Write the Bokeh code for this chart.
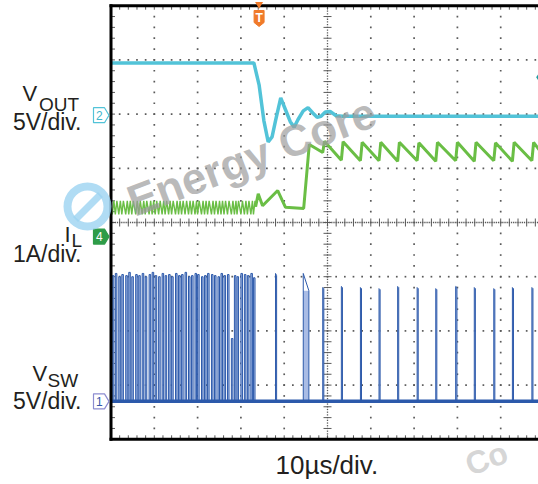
import numpy as np
from bokeh.plotting import figure
from bokeh.models import Range1d
from bokeh.core.properties import value
from bokeh.embed import file_html
from bokeh.resources import INLINE

# ---------------- scope settings ----------------
N_XDIV, N_YDIV = 10, 8            # graticule divisions
TIME_PER_DIV = 10.0               # µs/div
VOUT_PER_DIV = 5.0                # V/div
IL_PER_DIV = 1.0                  # A/div
VSW_PER_DIV = 5.0                 # V/div

# channel ground markers, divisions from screen centre
VOUT_OFFSET = 1.98
IL_OFFSET = -0.26
VSW_OFFSET = -3.30

# ---------------- captured waveforms ----------------
# VOUT (V) versus time (µs)
vout_t = [0.0, 33.0, 34.2, 35.3, 36.3, 37.2, 38.0, 39.2, 40.3, 41.4, 42.3, 43.2,
          44.4, 45.5, 46.6, 47.6, 48.5, 49.5, 50.6, 52.0, 53.5, 98.9]
vout_v = [4.82, 4.82, 2.8, -0.5, -2.46, -2.0, -0.5, 1.6, 0.5, -0.6, -1.1, -0.4,
          0.4, 0.7, 0.2, -0.2, -0.1, 0.3, 0.35, -0.05, -0.09, -0.09]

# switch node: dense switching burst before the step (rise times, µs and top level, V)
vsw_burst_rise = [0.3, 1.0, 1.8, 2.5, 3.4, 4.1, 4.8, 5.7, 6.4, 7.2, 7.9, 8.8, 9.5,
                  10.2, 11.0, 11.8, 12.5, 13.3, 14.0, 14.9, 15.6, 16.3, 17.1, 17.9,
                  18.6, 19.4, 20.0, 20.9, 21.6, 22.3, 23.2, 23.9, 24.7, 25.4, 26.1,
                  26.9, 27.8, 28.5, 29.1, 30.0, 30.8, 31.5, 32.3, 32.9]
vsw_burst_top = [11.6, 11.8, 11.5, 11.7, 11.6, 11.9, 11.5, 11.7, 11.6, 11.8, 11.5,
                 11.7, 11.9, 11.6, 11.5, 11.8, 11.6, 11.7, 11.5, 11.8, 11.6, 11.7,
                 11.9, 11.5, 11.6, 11.8, 11.7, 11.5, 11.6, 11.8, 11.7, 11.6, 11.5,
                 11.8, 11.6, 11.7, 5.8, 11.6, 11.5, 11.8, 11.7, 11.6, 11.8, 11.4]
vsw_burst_on = 0.36

# switch node: isolated pulses after the step
vsw_rise = [38.0, 44.4, 48.9, 53.2, 57.6, 61.9, 66.2, 70.7, 75.0, 79.6, 83.9, 88.4, 92.7, 97.2]
vsw_top_a = [11.8, 11.8, 10.5, 10.6, 10.5, 10.4, 10.6, 10.5, 10.4, 10.6, 10.5, 10.4, 10.5, 10.5]
vsw_top_b = [11.6, 10.2, 10.4, 10.5, 10.4, 10.3, 10.5, 10.4, 10.3, 10.5, 10.4, 10.3, 10.4, 10.4]
vsw_on = [0.25, 1.3, 0.25, 0.25, 0.25, 0.25, 0.25, 0.25, 0.25, 0.3, 0.25, 0.25, 0.25, 0.25]

# inductor current (A): ripple limits during the burst, then the captured trace
il_burst_lo = 0.41
il_burst_hi = 0.66
il_t = [33.4, 34.0, 35.0, 38.5, 40.3, 44.5, 45.8, 48.9, 49.3, 53.2, 53.6, 57.6, 58.0,
        61.9, 62.3, 66.2, 66.6, 70.7, 71.1, 75.0, 75.4, 79.6, 80.0, 83.9, 84.3, 88.4,
        88.8, 92.7, 93.1, 97.2, 97.6, 98.9]
il_a = [0.55, 0.79, 0.57, 0.85, 0.54, 0.52, 1.70, 1.55, 1.76, 1.41, 1.75, 1.40, 1.74,
        1.40, 1.74, 1.39, 1.74, 1.40, 1.73, 1.39, 1.74, 1.40, 1.74, 1.39, 1.74, 1.40,
        1.73, 1.39, 1.74, 1.40, 1.74, 1.60]

TRIGGER_T = 34.2          # µs
TRIGGER_LEVEL = 3.5       # V on VOUT

# ---------------- page geometry (pixels) ----------------
W, H = 538, 484
X0, PX_PER_DIV_X = 110.5, 43.3
Y0, PX_PER_DIV_Y = 222.0, 54.2
DX = PX_PER_DIV_X / TIME_PER_DIV   # px per µs
DY = PX_PER_DIV_Y                  # px per division


def tx(px):
    return (px - X0) / DX


def ty(py):
    return (Y0 - py) / DY


T_END = N_XDIV * TIME_PER_DIV
TOP, BOT = N_YDIV / 2, -N_YDIV / 2

p = figure(width=W, height=H, output_backend="svg", toolbar_location=None,
           x_range=Range1d(tx(0), tx(W)), y_range=Range1d(ty(H), ty(0)),
           min_border=0, outline_line_color=None)
p.axis.visible = False
p.grid.visible = False
p.background_fill_color = "white"
p.border_fill_color = "white"

GRID = "#5a5a5a"

# ---------------- graticule ----------------
minor_t = np.arange(0, T_END + 1e-9, TIME_PER_DIV / 5)
minor_d = np.arange(BOT, TOP + 1e-9, 0.2)

# dotted vertical grid lines
gx, gy = [], []
for k in range(1, N_XDIV):
    if k == N_XDIV // 2:
        continue
    for d in minor_d[1:-1]:
        gx.append(k * TIME_PER_DIV)
        gy.append(d)
# dotted horizontal grid lines
for k in range(-N_YDIV // 2 + 1, N_YDIV // 2):
    if k == 0:
        continue
    for t in minor_t[1:]:
        gx.append(t)
        gy.append(k)
p.scatter(gx, gy, marker="square", size=1.7, fill_color=GRID, line_color=None)

# centre cross: fine dots plus tick marks
tc = T_END / 2
fine_d = np.arange(BOT, TOP + 1e-9, 0.05)
fine_t = np.arange(0, T_END + 1e-9, TIME_PER_DIV / 20)
p.scatter([tc] * len(fine_d), fine_d, marker="square", size=1.3, fill_color=GRID, line_color=None)
p.scatter(fine_t, [0] * len(fine_t), marker="square", size=1.3, fill_color=GRID, line_color=None)
p.scatter([tc] * len(minor_d), minor_d, marker="dash", size=8, line_color=GRID, line_width=1)
p.scatter(minor_t, [0] * len(minor_t), marker="dash", size=8, angle=np.pi / 2,
          line_color=GRID, line_width=1)

# edge ticks
tick_h = 4 / DY
tick_w = 4 / DX
p.segment(minor_t, [TOP] * len(minor_t), minor_t, [TOP - tick_h] * len(minor_t),
          line_color=GRID, line_width=1)
p.segment(minor_t, [BOT] * len(minor_t), minor_t, [BOT + tick_h] * len(minor_t),
          line_color=GRID, line_width=1)
p.segment([0] * len(minor_d), minor_d, [tick_w] * len(minor_d), minor_d,
          line_color=GRID, line_width=1)

# ---------------- switch node (channel 1) ----------------
VSW_DARK = "#2d5aab"
VSW_LIGHT = "#a9bce5"


def vsw_div(v):
    return v / VSW_PER_DIV + VSW_OFFSET


pulses = [(r, top, top, vsw_burst_on) for r, top in zip(vsw_burst_rise, vsw_burst_top)]
pulses += list(zip(vsw_rise, vsw_top_a, vsw_top_b, vsw_on))

sx, sy = [0.0], [vsw_div(0)]
ql, qr, qt = [], [], []
for r, a, b, w in pulses:
    sx += [r, r, r + w, r + w]
    sy += [vsw_div(0), vsw_div(a), vsw_div(b), vsw_div(0)]
    ql.append(r)
    qr.append(r + w)
    qt.append(vsw_div(min(a, b)))
sx.append(T_END)
sy.append(vsw_div(0))

p.quad(left=ql, right=qr, bottom=[vsw_div(0)] * len(ql), top=qt,
       fill_color=VSW_LIGHT, line_color=None)
p.line([0, vout_t[-1]], [vsw_div(0)] * 2, line_color=VSW_DARK, line_width=3.5)
p.line(sx, sy, line_color=VSW_DARK, line_width=1.0)

# ---------------- inductor current (channel 4) ----------------
IL_COL = "#6abe45"
ix, iy = [0.0], [(il_burst_lo + il_burst_hi) / 2]
for r in vsw_burst_rise:
    ix += [r, r + vsw_burst_on]
    iy += [il_burst_lo, il_burst_hi]
ix.append(il_t[0])
iy.append(il_a[0])
p.line(ix, [a / IL_PER_DIV + IL_OFFSET for a in iy], line_color=IL_COL, line_width=1.4)
p.line(il_t, [a / IL_PER_DIV + IL_OFFSET for a in il_a], line_color=IL_COL, line_width=3)

# ---------------- output voltage (channel 2) ----------------
VOUT_COL = "#52c3d8"
p.line(vout_t, [v / VOUT_PER_DIV + VOUT_OFFSET for v in vout_v],
       line_color=VOUT_COL, line_width=3.5)

# ---------------- screen border ----------------
p.segment([0, 0, 0], [BOT, TOP, BOT], [0, tx(W), tx(W)], [TOP, TOP, BOT],
          line_color="black", line_width=3, line_cap="square")

# ---------------- channel tags ----------------
tag_h = 7.5 / DY


def tag(offset, fill, edge, label, label_col):
    xs = [tx(93), tx(104), tx(108.5), tx(104), tx(93)]
    ys = [offset - tag_h, offset - tag_h, offset, offset + tag_h, offset + tag_h]
    p.patch(xs, ys, fill_color=fill, line_color=edge, line_width=1.2)
    p.text([tx(98.8)], [offset], text=[label], text_align="center", text_baseline="middle",
           text_font=value("Liberation Sans"), text_font_size=value("12px"),
           text_color=label_col)


tag(VOUT_OFFSET, "white", VOUT_COL, "2", "#3fb5cc")
tag(IL_OFFSET, "#2e9c48", "#2e9c48", "4", "white")
tag(VSW_OFFSET, "white", "#8c8cd0", "1", "#3557a8")

# trigger position and level markers
TRIG_COL = "#f07a2a"
p.scatter([TRIGGER_T], [TOP + 1.5 / DY], marker="inverted_triangle", size=8,
          fill_color=TRIG_COL, line_color=None)
bx = [TRIGGER_T - 5 / DX, TRIGGER_T + 5 / DX, TRIGGER_T + 5 / DX, TRIGGER_T, TRIGGER_T - 5 / DX]
by = [ty(10), ty(10), ty(22), ty(26), ty(22)]
p.patch(bx, by, fill_color=TRIG_COL, line_color=TRIG_COL, line_width=1)
p.text([TRIGGER_T], [ty(17)], text=["T"], text_align="center", text_baseline="middle",
       text_font=value("Liberation Sans"), text_font_style="bold",
       text_font_size=value("12px"), text_color="white")
p.scatter([tx(541)], [TRIGGER_LEVEL / VOUT_PER_DIV + VOUT_OFFSET], marker="diamond",
          size=16, fill_color="#1b9ca0", line_color=None)

# ---------------- watermark ----------------
p.annulus([tx(87)], [ty(206)], inner_radius=16, outer_radius=24,
          inner_radius_units="screen", outer_radius_units="screen",
          fill_color="#9cd3f1", fill_alpha=0.8, line_color=None)
p.segment([tx(75)], [ty(219)], [tx(100)], [ty(194)], line_color="#9cd3f1",
          line_alpha=0.8, line_width=7)
p.text([tx(251)], [ty(156)], text=["Energy Core"], angle=0.36, text_align="center",
       text_baseline="middle", text_font=value("Liberation Sans"), text_font_style="bold",
       text_font_size=value("44px"), text_color="#9c9c9c", text_alpha=0.7)
p.text([tx(486)], [ty(458)], text=["Co"], angle=0.36, text_align="center",
       text_baseline="middle", text_font=value("Liberation Sans"), text_font_style="bold",
       text_font_size=value("32px"), text_color="#c4c4c4", text_alpha=0.7)

# ---------------- channel captions ----------------
TXT = "#231f20"
FONT = value("Liberation Sans")


def caption(px, py, s, size_px, align="left"):
    # py is the baseline in page pixels; shift for the SVG text placement
    p.text([tx(px)], [ty(py - 0.37 * size_px)], text=[s], text_align=align,
           text_baseline="alphabetic", text_font=FONT,
           text_font_size=value(f"{size_px}px"), text_color=TXT)


caption(22, 101, "V", 22)
caption(38.5, 111, "OUT", 19)
caption(81, 130, "5V/div.", 23, "right")

caption(64, 242, "I", 22)
caption(71, 247, "L", 19)
caption(81, 262, "1A/div.", 23, "right")

caption(32, 381, "V", 22)
caption(47, 387, "SW", 19)
caption(81, 409, "5V/div.", 23, "right")

caption(275, 474, "10µs/div.", 26)

open("out.html", "w").write(file_html(p, INLINE))
